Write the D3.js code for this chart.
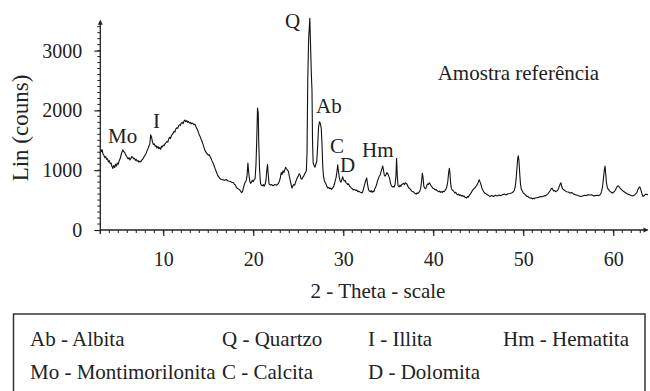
<!DOCTYPE html>
<html>
<head>
<meta charset="utf-8">
<script src="https://cdn.jsdelivr.net/npm/d3@7"></script>
<style>
  html, body { margin: 0; padding: 0; background: #fff; }
  svg { display: block; }
  #chart text { font-family: "Liberation Serif" !important; }
</style>
</head>
<body>
<svg id="chart" width="650" height="391" font-family="Liberation Serif"></svg>
<script>
// Diffractogram scan: [2-theta (degrees), intensity (counts)]
const scan = [
  [3.04,1340],[3.1,1310],[3.2,1345],[3.3,1270],[3.4,1250],[3.5,1210],[3.6,1225],[3.7,1180],[3.8,1195],[3.9,1140],
  [4.0,1160],[4.1,1110],[4.2,1120],[4.3,1060],[4.4,1030],[4.5,1080],[4.6,1045],[4.7,1100],[4.8,1070],[4.9,1120],
  [5.0,1100],[5.1,1160],[5.2,1190],[5.3,1250],[5.4,1300],[5.5,1340],[5.6,1310],[5.7,1300],[5.8,1260],[5.9,1240],
  [6.0,1210],[6.1,1190],[6.2,1210],[6.3,1170],[6.4,1195],[6.5,1230],[6.6,1215],[6.7,1190],[6.8,1200],[6.9,1165],
  [7.0,1180],[7.1,1150],[7.2,1160],[7.3,1135],[7.4,1150],[7.5,1140],[7.6,1170],[7.7,1180],[7.8,1210],[7.9,1230],
  [8.0,1260],[8.1,1280],[8.2,1330],[8.3,1360],[8.4,1400],[8.5,1440],[8.6,1590],[8.7,1550],[8.8,1470],[8.9,1430],
  [9.0,1440],[9.1,1400],[9.2,1410],[9.3,1370],[9.4,1395],[9.5,1360],[9.6,1380],[9.7,1350],[9.8,1400],[9.9,1390],
  [10.0,1420],[10.1,1410],[10.2,1445],[10.3,1460],[10.4,1480],[10.5,1470],[10.6,1520],[10.7,1550],[10.8,1530],[10.9,1580],
  [11.0,1600],[11.1,1620],[11.2,1650],[11.3,1640],[11.4,1690],[11.5,1710],[11.6,1700],[11.7,1740],[11.8,1760],[11.9,1750],
  [12.0,1790],[12.1,1800],[12.2,1780],[12.3,1820],[12.4,1840],[12.5,1810],[12.6,1830],[12.7,1800],[12.8,1815],[12.9,1790],
  [13.0,1800],[13.1,1775],[13.2,1790],[13.3,1780],[13.4,1760],[13.5,1770],[13.6,1740],[13.7,1700],[13.8,1680],[13.9,1630],
  [14.0,1590],[14.1,1560],[14.2,1520],[14.3,1480],[14.4,1440],[14.5,1390],[14.6,1340],[14.7,1310],[14.8,1290],[14.9,1270],
  [15.0,1250],[15.1,1260],[15.2,1230],[15.3,1200],[15.4,1160],[15.5,1130],[15.6,1090],[15.7,1050],[15.8,1010],[15.9,970],
  [16.0,930],[16.1,900],[16.2,880],[16.3,860],[16.4,850],[16.6,840],[16.8,830],[17.0,845],[17.2,820],[17.4,815],
  [17.6,800],[17.8,790],[17.9,760],[18.0,755],[18.1,720],[18.2,700],[18.3,690],[18.4,680],[18.5,665],[18.6,650],
  [18.7,625],[18.8,640],[18.9,700],[19.0,760],[19.1,800],[19.2,820],[19.3,900],[19.4,1120],[19.5,950],[19.6,820],
  [19.7,780],[19.8,800],[19.9,830],[20.0,810],[20.1,840],[20.2,860],[20.3,1100],[20.4,1600],[20.47,2040],[20.55,1950],
  [20.6,1500],[20.7,1000],[20.8,780],[20.9,750],[21.0,740],[21.1,760],[21.2,730],[21.3,760],[21.4,820],[21.5,1000],
  [21.58,1100],[21.65,950],[21.75,770],[21.9,750],[22.0,760],[22.2,740],[22.4,760],[22.6,750],[22.8,780],[22.9,820],
  [23.0,870],[23.1,960],[23.2,930],[23.3,990],[23.4,960],[23.5,1010],[23.6,1050],[23.7,1020],[23.8,1000],[23.9,980],
  [24.0,900],[24.1,830],[24.2,760],[24.3,700],[24.4,740],[24.5,760],[24.6,750],[24.7,800],[24.8,840],[24.9,880],
  [25.0,900],[25.1,940],[25.2,920],[25.3,860],[25.4,850],[25.5,880],[25.6,900],[25.7,940],[25.8,960],[25.9,1000],
  [25.97,1300],[26.05,2500],[26.15,3200],[26.28,3540],[26.36,3100],[26.45,2600],[26.52,2350],[26.58,1500],[26.65,1120],[26.75,1080],
  [26.85,1050],[26.95,1100],[27.05,1150],[27.15,1400],[27.25,1720],[27.35,1810],[27.45,1780],[27.55,1700],[27.63,1450],[27.72,1050],
  [27.8,900],[27.9,820],[28.0,790],[28.1,760],[28.2,720],[28.3,700],[28.4,710],[28.5,690],[28.6,700],[28.7,680],
  [28.8,700],[28.9,720],[29.0,760],[29.1,820],[29.2,880],[29.3,980],[29.38,1090],[29.45,1000],[29.55,880],[29.65,820],
  [29.75,800],[29.85,850],[29.93,890],[30.0,850],[30.1,820],[30.2,830],[30.3,790],[30.4,780],[30.5,760],[30.6,770],
  [30.7,730],[30.8,720],[30.9,700],[31.0,690],[31.1,670],[31.2,680],[31.4,660],[31.5,670],[31.6,640],[31.7,650],
  [31.8,640],[31.9,630],[32.0,625],[32.1,620],[32.2,660],[32.3,720],[32.4,780],[32.5,830],[32.6,870],[32.7,760],
  [32.8,680],[32.9,650],[33.0,640],[33.1,660],[33.2,630],[33.3,650],[33.4,640],[33.5,690],[33.6,720],[33.7,760],
  [33.8,820],[33.9,860],[34.0,900],[34.1,920],[34.2,980],[34.3,1030],[34.38,1070],[34.45,1020],[34.55,920],[34.65,900],
  [34.75,930],[34.85,960],[34.95,940],[35.05,900],[35.15,860],[35.25,780],[35.35,740],[35.45,720],[35.55,730],[35.65,720],
  [35.75,760],[35.85,900],[35.92,1200],[36.0,900],[36.08,740],[36.2,720],[36.3,750],[36.4,730],[36.5,760],[36.6,770],
  [36.7,780],[36.8,760],[36.9,790],[37.0,780],[37.1,760],[37.2,720],[37.3,700],[37.4,690],[37.5,670],[37.6,650],
  [37.7,640],[37.8,640],[37.9,620],[38.0,610],[38.1,600],[38.2,620],[38.3,610],[38.4,630],[38.5,650],[38.6,700],
  [38.7,820],[38.78,950],[38.86,880],[38.95,730],[39.05,700],[39.15,690],[39.25,730],[39.35,770],[39.45,760],[39.55,790],
  [39.65,770],[39.75,740],[39.85,720],[39.95,700],[40.1,690],[40.2,670],[40.3,680],[40.4,660],[40.5,650],[40.6,640],
  [40.7,650],[40.8,630],[40.9,640],[41.0,630],[41.1,650],[41.2,640],[41.3,660],[41.4,680],[41.5,720],[41.6,800],
  [41.7,950],[41.78,1030],[41.85,950],[41.93,780],[42.0,700],[42.1,670],[42.2,660],[42.3,640],[42.4,620],[42.5,630],
  [42.6,600],[42.7,590],[42.8,600],[42.9,580],[43.0,590],[43.1,570],[43.2,580],[43.3,560],[43.4,570],[43.5,550],
  [43.6,545],[43.7,535],[43.8,560],[43.9,550],[44.0,580],[44.1,600],[44.2,620],[44.3,650],[44.4,670],[44.5,690],
  [44.6,700],[44.7,720],[44.8,740],[44.9,770],[45.0,800],[45.1,840],[45.2,800],[45.3,760],[45.4,700],[45.5,670],
  [45.6,640],[45.7,620],[45.8,610],[45.9,600],[46.0,590],[46.1,580],[46.2,570],[46.3,560],[46.5,575],[46.7,560],
  [46.9,580],[47.1,570],[47.3,585],[47.5,575],[47.7,590],[47.9,600],[48.1,585],[48.3,605],[48.5,610],[48.7,620],
  [48.9,640],[49.0,660],[49.1,720],[49.2,850],[49.3,1050],[49.38,1200],[49.45,1240],[49.52,1150],[49.6,950],[49.68,780],
  [49.78,680],[49.9,650],[50.0,620],[50.1,610],[50.2,590],[50.3,580],[50.4,560],[50.5,565],[50.6,545],[50.7,540],
  [50.8,530],[50.9,535],[51.0,520],[51.1,530],[51.2,520],[51.3,535],[51.5,540],[51.7,545],[51.9,560],[52.1,555],
  [52.3,570],[52.5,575],[52.7,600],[52.9,640],[53.0,660],[53.1,690],[53.2,700],[53.3,670],[53.4,650],[53.5,660],
  [53.6,640],[53.7,650],[53.8,660],[53.9,690],[54.0,730],[54.1,770],[54.18,790],[54.25,740],[54.35,690],[54.45,680],
  [54.6,660],[54.7,650],[54.8,640],[55.0,635],[55.2,620],[55.4,625],[55.6,600],[55.8,590],[56.0,580],[56.2,570],
  [56.4,560],[56.6,570],[56.8,580],[57.0,575],[57.2,590],[57.4,585],[57.6,590],[57.8,570],[58.0,575],[58.2,580],
  [58.4,575],[58.6,600],[58.7,650],[58.8,720],[58.9,850],[59.0,1000],[59.08,1070],[59.15,950],[59.25,780],[59.35,700],
  [59.5,670],[59.6,650],[59.7,640],[59.8,625],[59.9,620],[60.0,630],[60.1,640],[60.2,660],[60.3,690],[60.4,720],
  [60.5,740],[60.6,730],[60.7,710],[60.8,690],[60.9,680],[61.0,660],[61.2,640],[61.4,620],[61.6,600],[61.8,590],
  [62.0,575],[62.2,570],[62.4,590],[62.6,620],[62.7,660],[62.8,700],[62.95,720],[63.05,680],[63.15,620],[63.3,560],
  [63.45,580],[63.6,600],[63.75,590],[63.85,600]
];
const yTicks = [0, 1000, 2000, 3000];
const xTicks = [10, 20, 30, 40, 50, 60];
// phase labels, placed in data coordinates (2-theta, counts) at their left/baseline
const peakLabels = ["Mo", "I", "Q", "Ab", "C", "D", "Hm"];
const peakTheta = [3.86, 8.86, 23.52, 26.97, 28.52, 29.63, 32.08];
const peakCount = [1455, 1706, 3386, 1957, 1288, 962, 1221];
const legendRows = [
  ["Ab - Albita", "Q - Quartzo", "I - Illita", "Hm - Hematita"],
  ["Mo - Montimorilonita", "C - Calcita", "D - Dolomita"]
];

const INK = "#222";
const svg = d3.select("#chart");
const x = d3.scaleLinear().domain([3, 63.8]).range([100.3, 647.5]);
const y = d3.scaleLinear().domain([0, 3500]).range([230, 20.7]);

// minor ticks: every 100 counts, every degree
svg.append("g").selectAll("line").data(d3.range(100, 3500, 100)).join("line")
  .attr("x1", x(3) - 3).attr("x2", x(3))
  .attr("y1", d => y(d)).attr("y2", d => y(d))
  .attr("stroke", INK).attr("stroke-width", 1);
svg.append("g").selectAll("line").data(d3.range(3, 64, 1)).join("line")
  .attr("x1", d => x(d)).attr("x2", d => x(d))
  .attr("y1", y(0)).attr("y2", y(0) + 3)
  .attr("stroke", INK).attr("stroke-width", 1);

// major ticks and labels
const yAxis = d3.axisLeft(y).tickValues(yTicks).tickSize(6).tickPadding(12).tickFormat(d3.format("d"));
const xAxis = d3.axisBottom(x).tickValues(xTicks).tickSize(6).tickPadding(15.5).tickFormat(d3.format("d"));
const ya = svg.append("g").attr("transform", `translate(${x(3)},0)`).call(yAxis);
const xa = svg.append("g").attr("transform", `translate(0,${y(0)})`).call(xAxis);
[ya, xa].forEach(a => {
  a.attr("font-family", "Liberation Serif");
  a.select(".domain").remove();
  a.selectAll(".tick line").attr("stroke", INK).attr("stroke-width", 1.2);
  a.selectAll(".tick text").attr("font-size", 20);
});

// axis lines with arrow heads
svg.append("line").attr("x1", x(3)).attr("x2", x(3)).attr("y1", y(0) + 4).attr("y2", y(3500))
  .attr("stroke", INK).attr("stroke-width", 1.3);
svg.append("line").attr("x1", x(3)).attr("x2", x(63.8)).attr("y1", y(0)).attr("y2", y(0))
  .attr("stroke", INK).attr("stroke-width", 1.3);
svg.append("path").attr("d", `M${x(63.8) + 1},${y(0)} l-5,-2.5 l0,5 z`).attr("fill", INK);
svg.append("path").attr("d", `M${x(3)},${y(3500) - 1} l-2.5,5 l5,0 z`).attr("fill", INK);

// diffractogram trace
svg.append("path").datum(scan)
  .attr("fill", "none").attr("stroke", "#111").attr("stroke-width", 1.1)
  .attr("stroke-linejoin", "round")
  .attr("d", d3.line().x(d => x(d[0])).y(d => y(d[1])));

// axis titles
svg.append("text").attr("transform", "translate(28,128) rotate(-90)")
  .attr("text-anchor", "middle").attr("font-size", 23).text("Lin (couns)");
svg.append("text").attr("x", 378).attr("y", 298)
  .attr("text-anchor", "middle").attr("font-size", 21).text("2 - Theta - scale");

// phase labels and sample name
svg.selectAll("text.peak").data(peakLabels).join("text")
  .attr("class", "peak")
  .attr("x", (d, i) => x(peakTheta[i])).attr("y", (d, i) => y(peakCount[i]))
  .attr("font-size", 21).text(d => d);
svg.append("text").attr("x", x(40.49)).attr("y", y(2508))
  .attr("font-size", 21).text("Amostra referência");

// legend box (open at the bottom edge of the figure)
svg.append("rect").attr("x", 13.5).attr("y", 314).attr("width", 631.5).attr("height", 100)
  .attr("fill", "none").attr("stroke", "#333").attr("stroke-width", 1.5);
const colX = [30, 222, 368, 503];
legendRows.forEach((row, r) => {
  svg.append("g").selectAll("text").data(row).join("text")
    .attr("x", (d, i) => colX[i]).attr("y", 345.7 + r * 33.3)
    .attr("font-size", 21).text(d => d);
});

svg.selectAll("text")
  .attr("font-family", "Liberation Serif")
  .style("font-family", '"Liberation Serif"')
  .style("fill", INK);
</script>
</body>
</html>
